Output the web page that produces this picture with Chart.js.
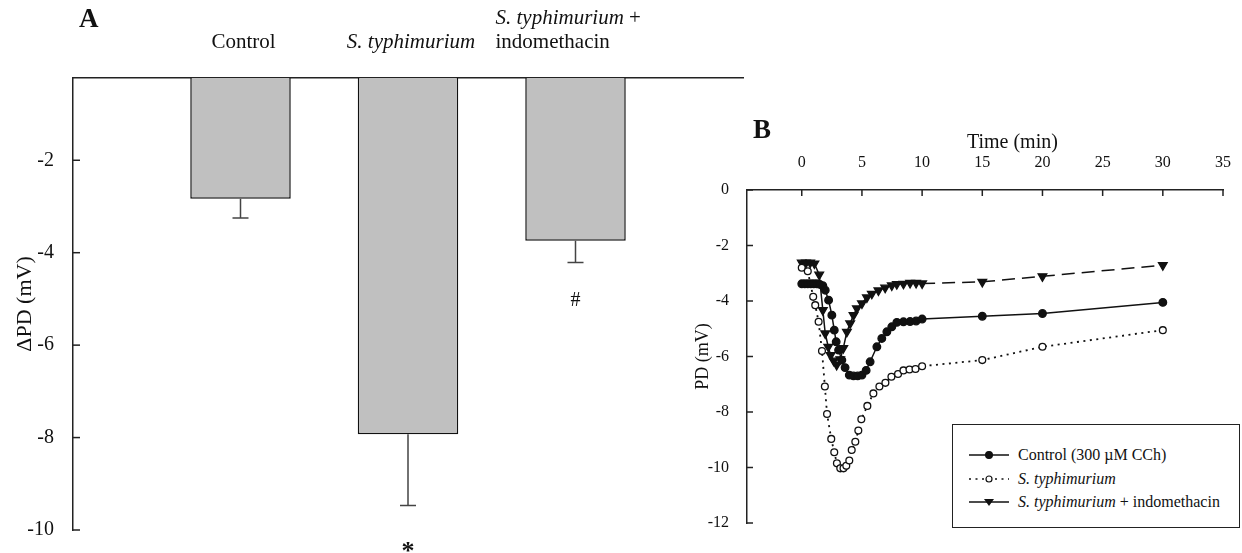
<!DOCTYPE html>
<html>
<head>
<meta charset="utf-8">
<script src="https://cdn.jsdelivr.net/npm/chart.js@4.4.1/dist/chart.umd.min.js"></script>
<style>
  html, body { margin: 0; padding: 0; background: #fff; }
  #wrap { position: relative; width: 1242px; height: 553px; overflow: hidden; font-family: 'Liberation Serif', 'Times New Roman', serif; }
  #chartA { position: absolute; left: 0; top: 0; }
  #chartB { position: absolute; left: 680px; top: 0; }
  #legendB { position: absolute; left: 952px; top: 424px; width: 286px; height: 102px; border: 1px solid #222; background: #fff; font-size: 16px; color: #111; }
  .row { position: absolute; left: 0; height: 20px; display: flex; align-items: center; white-space: nowrap; }
  .row svg { margin-left: 16px; margin-right: 9px; }
</style>
</head>
<body>
<div id="wrap">
  <canvas id="chartA" width="760" height="553"></canvas>
  <canvas id="chartB" width="562" height="553"></canvas>
  <div id="legendB"></div>
</div>
<script>
// Panel A: change in PD per group (mean, SEM)
const groupsA = ['Control', 'S. typhimurium', 'S. typhimurium +\nindomethacin'];
const meanA = [-2.83, -7.93, -3.74];
const semA = [0.42, 1.54, 0.47];
const marksA = ['', '*', '#'];
const yTicksA = [-2, -4, -6, -8, -10];

// Panel B: PD over time
const ctrlTime = [0, 0.25, 0.5, 0.75, 1.0, 1.25, 1.5, 1.75, 1.95, 2.23, 2.5, 2.7, 2.86, 3.06, 3.33, 3.6, 3.95, 4.3, 4.65, 5.0, 5.35, 5.68, 6.24, 6.65, 7.07, 7.48, 7.9, 8.45, 9.0, 9.5, 10, 15, 20, 30];
const ctrlPD = [-3.38, -3.38, -3.38, -3.38, -3.38, -3.38, -3.4, -3.45, -3.61, -3.97, -4.51, -5.05, -5.47, -5.77, -6.13, -6.4, -6.67, -6.7, -6.7, -6.67, -6.5, -6.19, -5.65, -5.35, -5.11, -4.93, -4.77, -4.75, -4.74, -4.72, -4.65, -4.55, -4.45, -4.05];

const typhTime = [0, 0.5, 0.95, 1.12, 1.4, 1.68, 1.92, 2.1, 2.45, 2.7, 2.92, 3.2, 3.47, 3.7, 3.95, 4.15, 4.45, 4.7, 4.95, 5.45, 5.95, 6.45, 6.95, 7.45, 8.0, 8.45, 8.95, 9.45, 10, 15, 20, 30];
const typhPD = [-2.8, -2.93, -3.85, -4.15, -4.75, -5.8, -7.08, -8.07, -8.97, -9.45, -9.85, -10.03, -10.03, -9.94, -9.75, -9.37, -9.07, -8.67, -8.26, -7.78, -7.33, -7.08, -6.95, -6.73, -6.63, -6.5, -6.47, -6.45, -6.35, -6.13, -5.65, -5.05];

const indoTime = [0, 0.35, 0.7, 1.05, 1.45, 1.75, 1.95, 2.2, 2.4, 2.65, 2.9, 3.2, 3.45, 3.75, 4.02, 4.3, 4.58, 5.0, 5.41, 5.82, 6.37, 6.93, 7.48, 7.9, 8.45, 9.0, 9.5, 10, 15, 20, 30];
const indoPD = [-2.62, -2.62, -2.62, -2.65, -3.05, -4.33, -5.17, -5.65, -5.95, -6.15, -6.3, -6.1, -5.7, -5.11, -4.81, -4.51, -4.27, -4.09, -3.87, -3.74, -3.62, -3.52, -3.44, -3.39, -3.38, -3.35, -3.35, -3.37, -3.31, -3.11, -2.71];

const xTicksB = [0, 5, 10, 15, 20, 25, 30, 35];
const yTicksB = [0, -2, -4, -6, -8, -10, -12];
const legendB = ['Control (300 µM CCh)', 'S. typhimurium', 'S. typhimurium + indomethacin'];

const SERIF = "'Liberation Serif', 'Times New Roman', serif";
const INK = '#111';

// draws text with the species name in italics
function drawRich(ctx, text, x, y, size, align) {
  const parts = text.split(/(S\. typhimurium)/).filter(s => s !== '');
  const fontOf = s => (s === 'S. typhimurium' ? 'italic ' : '') + size + 'px ' + SERIF;
  let w = 0;
  parts.forEach(s => { ctx.font = fontOf(s); w += ctx.measureText(s).width; });
  let cx = align === 'center' ? x - w / 2 : x;
  ctx.textAlign = 'left';
  ctx.textBaseline = 'middle';
  ctx.fillStyle = INK;
  parts.forEach(s => { ctx.font = fontOf(s); ctx.fillText(s, cx, y); cx += ctx.measureText(s).width; });
}

// tick marks pointing into the plot
const innerTicks = {
  id: 'innerTicks',
  afterDraw(chart, args, opts) {
    const ctx = chart.ctx;
    ctx.save();
    ctx.strokeStyle = '#222';
    ctx.lineWidth = 1.5;
    (opts.axes || []).forEach(id => {
      const sc = chart.scales[id];
      sc.ticks.forEach(t => {
        const p = sc.getPixelForValue(t.value);
        ctx.beginPath();
        if (sc.isHorizontal()) {
          ctx.moveTo(p, sc.bottom); ctx.lineTo(p, sc.bottom + opts.len);
        } else {
          ctx.moveTo(sc.right, p); ctx.lineTo(sc.right + opts.len, p);
        }
        ctx.stroke();
      });
    });
    ctx.restore();
  }
};

// error bars, group names, significance marks
const panelA = {
  id: 'panelA',
  afterDatasetsDraw(chart) {
    const { ctx, scales: { x, y } } = chart;
    ctx.save();
    ctx.strokeStyle = '#444';
    ctx.lineWidth = 1.5;
    meanA.forEach((m, i) => {
      const px = x.getPixelForValue(i + 1);
      const y0 = y.getPixelForValue(m);
      const y1 = y.getPixelForValue(m - semA[i]);
      ctx.beginPath();
      ctx.moveTo(px, y0); ctx.lineTo(px, y1);
      ctx.moveTo(px - 8, y1); ctx.lineTo(px + 8, y1);
      ctx.stroke();
      if (marksA[i]) {
        ctx.fillStyle = INK;
        ctx.textAlign = 'center';
        ctx.textBaseline = 'middle';
        ctx.font = (marksA[i] === '*' ? 'bold 26px ' : '20px ') + SERIF;
        ctx.fillText(marksA[i], px, y1 + (marksA[i] === '*' ? 47 : 38));
      }
    });
    groupsA.forEach((g, i) => {
      const px = x.getPixelForValue(i + 1);
      const lines = g.split('\n');
      if (lines.length === 1) {
        drawRich(ctx, g, px + 3, 42, 21, 'center');
      } else {
        lines.forEach((l, k) => drawRich(ctx, l, px - 80, 42 - (lines.length - 1 - k) * 24, 21, 'left'));
      }
    });
    ctx.fillStyle = INK;
    ctx.font = 'bold 27px ' + SERIF;
    ctx.textAlign = 'left';
    ctx.textBaseline = 'middle';
    ctx.fillText('A', x.left + 6, 20);
    ctx.restore();
  }
};

new Chart(document.getElementById('chartA'), {
  type: 'bar',
  data: {
    datasets: [{
      data: meanA.map((v, i) => ({ x: i + 1, y: v })),
      backgroundColor: '#c0c0c0',
      borderColor: INK,
      borderWidth: 1.5,
      categoryPercentage: 1,
      barPercentage: 0.6,
      clip: 0
    }]
  },
  options: {
    responsive: false,
    animation: false,
    layout: { padding: { top: 0, left: 0, right: 17, bottom: 11 } },
    plugins: {
      legend: { display: false },
      tooltip: { enabled: false },
      innerTicks: { axes: ['y'], len: 7 }
    },
    scales: {
      x: {
        type: 'linear', position: 'top', min: 0, max: 4, offset: false,
        afterBuildTicks: s => { s.ticks = [0].concat(meanA.map((v, i) => i + 1), [meanA.length + 1]).map(v => ({ value: v })); },
        ticks: { display: false },
        grid: { display: false },
        border: { color: '#222', width: 1.5 },
        afterFit: s => { s.height = 78; }
      },
      y: {
        min: -10, max: -0.22,
        afterBuildTicks: s => { s.ticks = yTicksA.map(v => ({ value: v })); },
        ticks: { font: { family: SERIF, size: 20 }, color: INK, padding: 11 },
        grid: { display: false },
        border: { color: '#222', width: 1.5 },
        title: { display: true, text: 'ΔPD (mV)', font: { family: SERIF, size: 22 }, color: INK, padding: { top: 12 } },
        afterFit: s => { s.width = 73; }
      }
    }
  },
  plugins: [innerTicks, panelA]
});

// axis title centred on the tick range, panel letter
const panelB = {
  id: 'panelB',
  afterDraw(chart) {
    const { ctx, scales: { x, y } } = chart;
    ctx.save();
    ctx.fillStyle = INK;
    ctx.textBaseline = 'middle';
    ctx.textAlign = 'center';
    ctx.font = '20px ' + SERIF;
    ctx.fillText('Time (min)', x.getPixelForValue((xTicksB[0] + xTicksB[xTicksB.length - 1]) / 2), 143);
    ctx.textAlign = 'left';
    ctx.font = 'bold 27px ' + SERIF;
    ctx.fillText('B', y.right + 6, 131);
    ctx.restore();
  }
};

const lineDS = (label, t, v, style) => Object.assign({
  label,
  data: t.map((tt, i) => ({ x: tt, y: v[i] })),
  borderColor: INK,
  borderWidth: 1.5,
  pointBorderColor: INK,
  pointBorderWidth: 1.3,
  tension: 0,
  fill: false
}, style);

const chartB = new Chart(document.getElementById('chartB'), {
  type: 'line',
  data: {
    datasets: [
      lineDS(legendB[0], ctrlTime, ctrlPD, { pointStyle: 'circle', pointRadius: 3.8, pointBackgroundColor: INK }),
      lineDS(legendB[1], typhTime, typhPD, { borderDash: [2, 4.5], borderWidth: 1.8, pointStyle: 'circle', pointRadius: 3.4, pointBackgroundColor: '#fff' }),
      lineDS(legendB[2], indoTime, indoPD, {
        pointStyle: 'triangle', pointRotation: 180, pointRadius: 5, pointBackgroundColor: INK,
        segment: { borderDash: c => (c.p0.parsed.x >= 10 ? [13, 7] : undefined) }
      })
    ]
  },
  options: {
    responsive: false,
    animation: false,
    layout: { padding: { top: 0, left: 0, right: 19, bottom: 30 } },
    plugins: {
      legend: { display: false },
      tooltip: { enabled: false },
      innerTicks: { axes: ['x', 'y'], len: 6 }
    },
    scales: {
      x: {
        type: 'linear', position: 'top', min: -4.55, max: 35,
        afterBuildTicks: s => { s.ticks = xTicksB.map(v => ({ value: v })); },
        ticks: { font: { family: SERIF, size: 16 }, color: INK, padding: 10, maxRotation: 0, autoSkip: false },
        grid: { display: false },
        border: { color: '#222', width: 1.5 },
        afterFit: s => { s.height = 190; }
      },
      y: {
        min: -12, max: 0,
        afterBuildTicks: s => { s.ticks = yTicksB.map(v => ({ value: v })); },
        ticks: { font: { family: SERIF, size: 16 }, color: INK, padding: 10 },
        grid: { display: false },
        border: { color: '#222', width: 1.5 },
        title: { display: true, text: 'PD (mV)', font: { family: SERIF, size: 18 }, color: INK, padding: { top: 12 } },
        afterFit: s => { s.width = 67; }
      }
    }
  },
  plugins: [innerTicks, panelB]
});

// legend box built from the dataset styles
const legendEl = document.getElementById('legendB');
chartB.data.datasets.forEach((ds, i) => {
  const dash = ds.borderDash ? ds.borderDash.join(' ') : '';
  const marker = ds.pointStyle === 'triangle'
    ? '<path d="M15 4 L25 4 L20 11 Z" fill="' + INK + '"/>'
    : '<circle cx="20" cy="7" r="' + (ds.pointRadius - 0.4) + '" fill="' + ds.pointBackgroundColor + '" stroke="' + INK + '" stroke-width="1.2"/>';
  const row = document.createElement('div');
  row.className = 'row';
  row.style.top = (20 + i * 23.5) + 'px';
  row.innerHTML = '<svg width="40" height="14"><line x1="0" y1="7" x2="40" y2="7" stroke="' + INK + '" stroke-width="1.5"' +
    (dash ? ' stroke-dasharray="' + dash + '"' : '') + '/>' + marker + '</svg>' +
    '<span>' + legendB[i].replace('S. typhimurium', '<i>S. typhimurium</i>') + '</span>';
  legendEl.appendChild(row);
});
</script>
</body>
</html>
